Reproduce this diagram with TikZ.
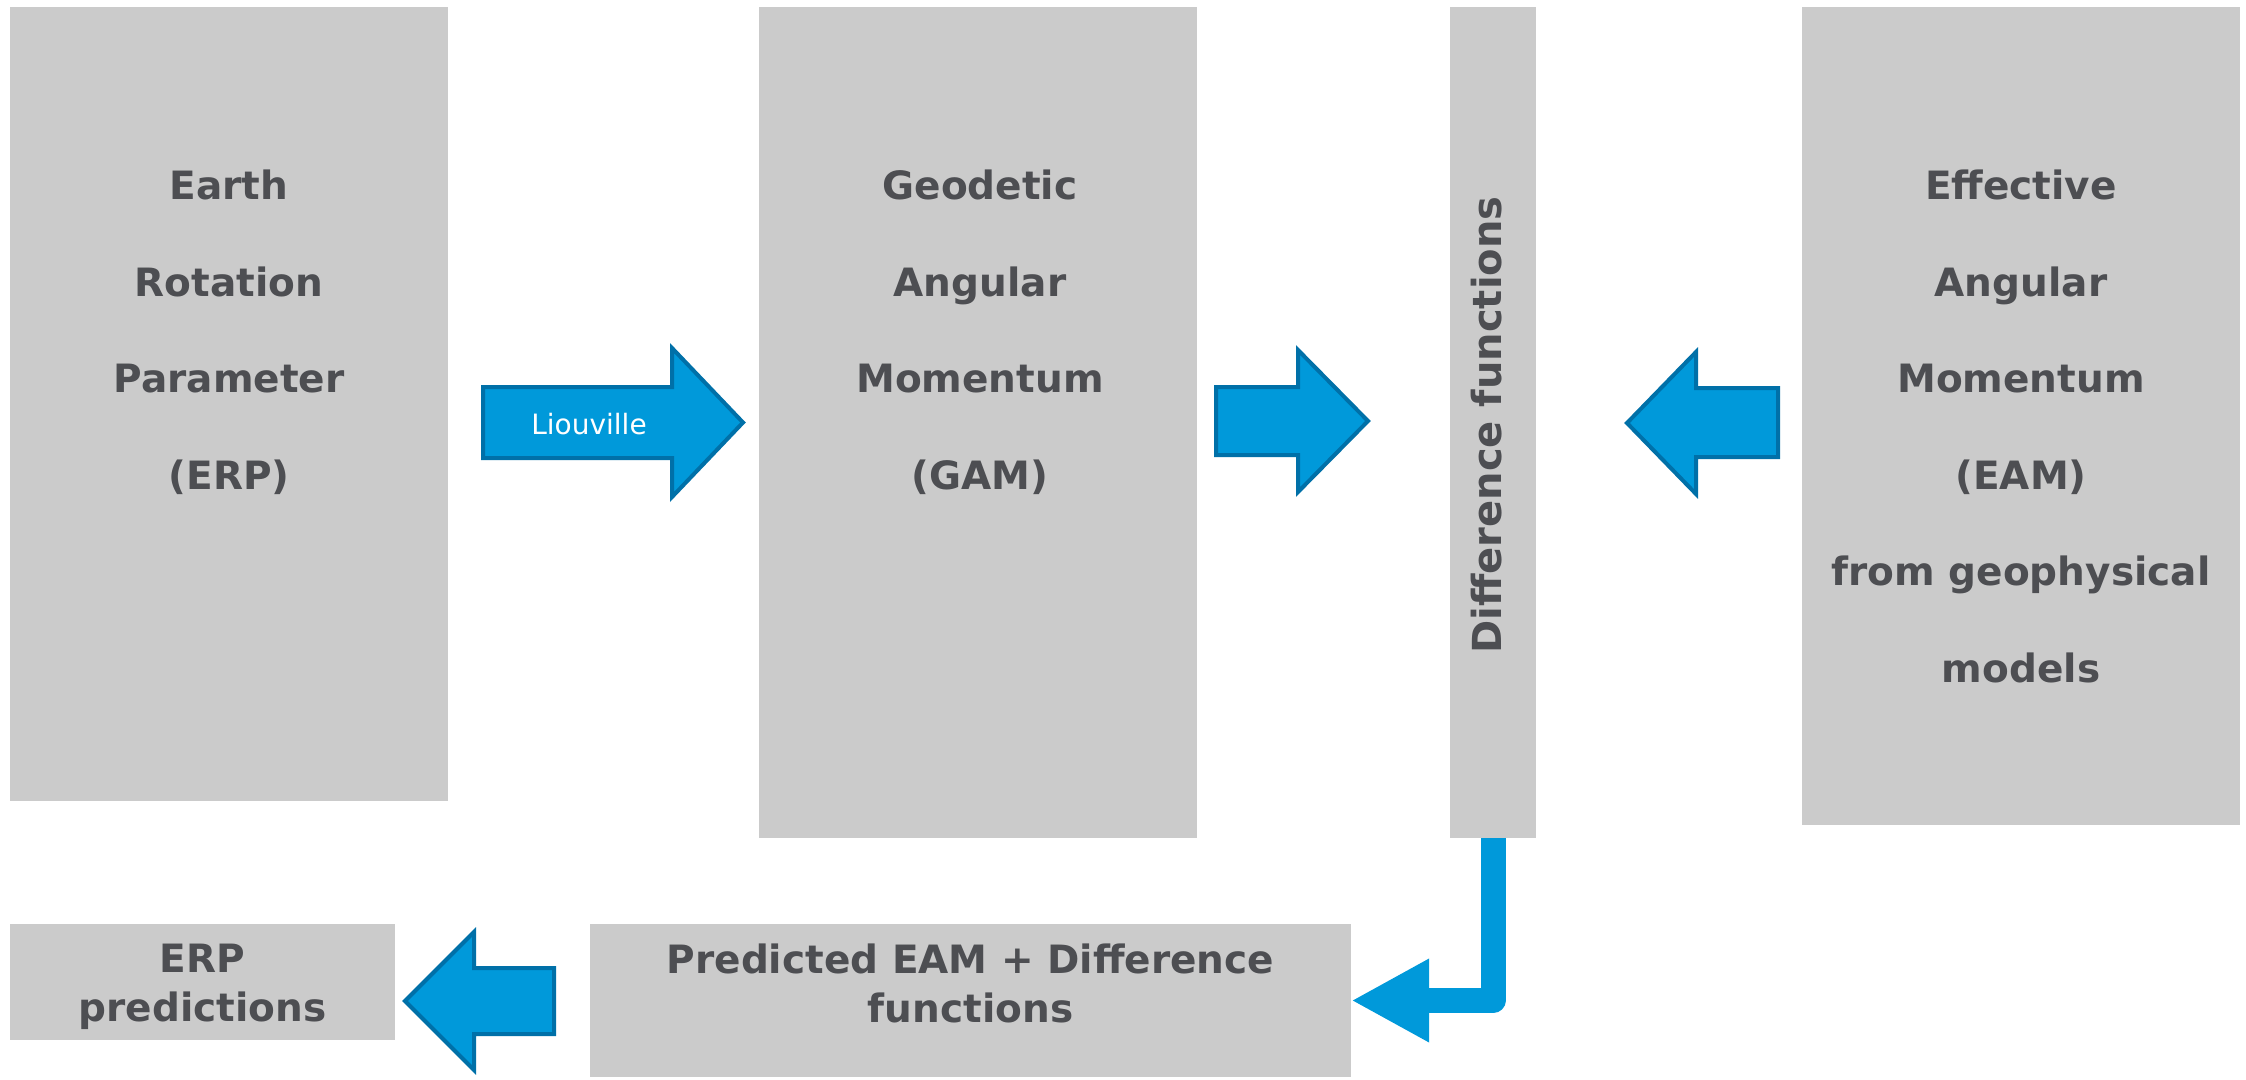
\documentclass[tikz,border=0pt]{standalone}
\usepackage{fontspec}
\setmainfont{DejaVu Sans}
\usetikzlibrary{arrows.meta}
\definecolor{boxgrey}{HTML}{CBCBCB}
\definecolor{txtgrey}{HTML}{4D4E52}
\definecolor{arrblue}{HTML}{0099DA}
\definecolor{arredge}{HTML}{0070A8}
\tikzset{
  greybox/.style={fill=boxgrey, draw=none, inner sep=0pt, anchor=center},
  bigtxt/.style={text=txtgrey, font=\bfseries\fontsize{39}{96.5}\selectfont, align=center, inner sep=0pt, anchor=north},
  smalltxt/.style={text=txtgrey, font=\bfseries\fontsize{39}{49}\selectfont, align=center, inner sep=0pt},
  blockarrow/.style={fill=arrblue, draw=arredge, line width=4pt, line join=miter},
  pipe/.style={draw=arrblue, line width=25pt, line join=round, -{Triangle[length=78pt,width=78pt]}}
}
\begin{document}
\begin{tikzpicture}[x=1pt,y=-1pt]
\useasboundingbox (0,0) rectangle (2246,1079);
% boxes
\node[greybox, minimum width=438pt, minimum height=794pt] (erp) at (229,404) {};
\node[greybox, minimum width=438pt, minimum height=831pt] (gam) at (978,422.5) {};
\node[greybox, minimum width=86pt, minimum height=831pt] (diff) at (1493,422.5) {};
\node[greybox, minimum width=438pt, minimum height=818pt] (eam) at (2021,416) {};
\node[greybox, minimum width=385pt, minimum height=116pt] (erppred) at (202.5,982) {};
\node[greybox, minimum width=761pt, minimum height=153pt] (pred) at (970.5,1000.5) {};
% texts
\node[bigtxt] (erptxt) at (229,170) {Earth\\Rotation\\Parameter\\(ERP)};
\node[bigtxt] (gamtxt) at (980,170) {Geodetic\\Angular\\Momentum\\(GAM)};
\node[bigtxt] (eamtxt) at (2021,170) {Effective\\Angular\\Momentum\\(EAM)\\from geophysical\\models};
\node[text=txtgrey, font=\bfseries\fontsize{40}{47}\selectfont, inner sep=0pt, rotate=90] (difftxt) at (1487,425) {Difference functions};
\node[smalltxt] (erppredtxt) at ([yshift=-5pt]erppred.center) {ERP\\predictions};
\node[smalltxt] (predtxt) at ([yshift=17pt]pred.center) {Predicted EAM + Difference\\functions};
% block arrows
\draw[blockarrow] (483,387) -- (672,387) -- (672,348) -- (743,422.5) -- (672,497) -- (672,458) -- (483,458) -- cycle;
\node[text=white, font=\fontsize{28}{30}\selectfont, inner sep=0pt] (liou) at (589,424) {Liouville};
\draw[blockarrow] (1216,387) -- (1298,387) -- (1298,350) -- (1368,421) -- (1298,492) -- (1298,455) -- (1216,455) -- cycle;
\draw[blockarrow] (1778,388) -- (1696,388) -- (1696,352) -- (1627,423) -- (1696,494) -- (1696,457) -- (1778,457) -- cycle;
\draw[blockarrow] (554,968) -- (474,968) -- (474,932) -- (405,1001) -- (474,1070) -- (474,1034) -- (554,1034) -- cycle;
% connector
\draw[pipe] (diff.south) |- (pred.east);
\end{tikzpicture}
\end{document}
